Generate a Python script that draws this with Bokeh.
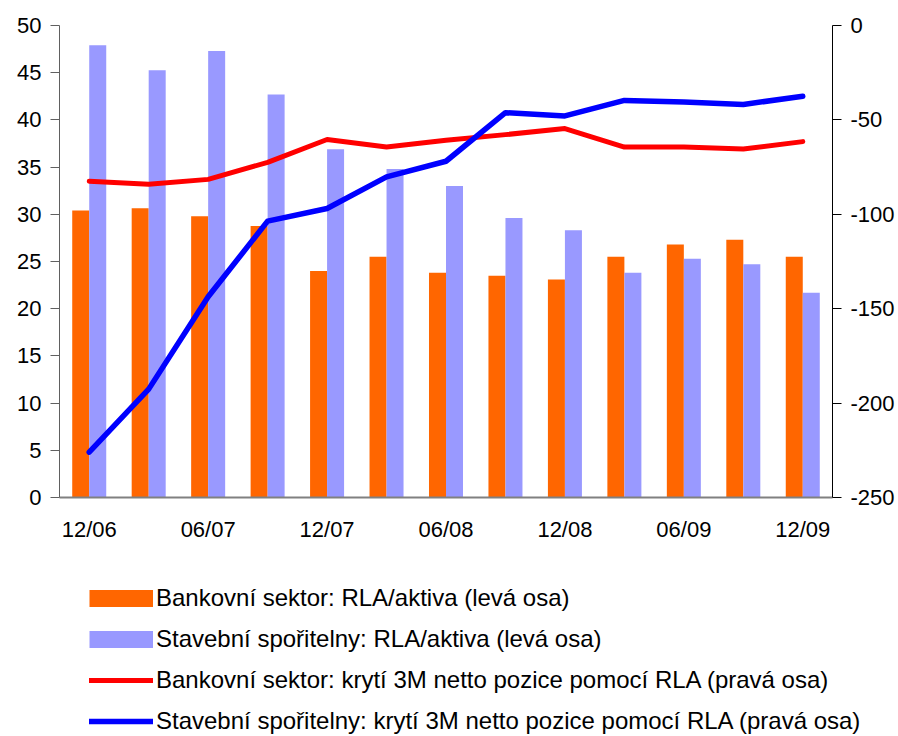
from bokeh.plotting import figure
from bokeh.models import Range1d, LinearAxis, FixedTicker, Legend, LegendItem, ColumnDataSource
from bokeh.transform import dodge
from bokeh.embed import file_html
from bokeh.resources import INLINE

periods = ["12/06", "03/07", "06/07", "09/07", "12/07", "03/08", "06/08",
           "09/08", "12/08", "03/09", "06/09", "09/09", "12/09"]
shown_labels = ["12/06", "06/07", "12/07", "06/08", "12/08", "06/09", "12/09"]
bank_rla = [30.4, 30.65, 29.8, 28.75, 24.0, 25.5, 23.8, 23.5, 23.1, 25.5, 26.8, 27.3, 25.5]
stav_rla = [47.9, 45.25, 47.3, 42.7, 36.9, 34.8, 33.0, 29.6, 28.3, 23.8, 25.3, 24.7, 21.7]
bank_cover = [-82.5, -84.1, -81.5, -72.5, -60.4, -64.4, -60.8, -57.8, -54.6, -64.4, -64.4, -65.4, -61.5]
stav_cover = [-226, -192.6, -143.7, -103.6, -96.9, -80.2, -71.9, -46.2, -47.9, -39.7, -40.5, -41.8, -37.5]
left_ticks = [0, 5, 10, 15, 20, 25, 30, 35, 40, 45, 50]
right_ticks = [-250, -200, -150, -100, -50, 0]

names = [
    "Bankovní sektor: RLA/aktiva (levá osa)",
    "Stavební spořitelny: RLA/aktiva (levá osa)",
    "Bankovní sektor: krytí 3M netto pozice pomocí RLA (pravá osa)",
    "Stavební spořitelny: krytí 3M netto pozice pomocí RLA (pravá osa)",
]

ORANGE = "#FF6600"
LILAC = "#9999FF"
RED = "#FF0000"
BLUE = "#0000FF"

idx = list(range(len(periods)))
src = ColumnDataSource(dict(x=idx, period=periods, bank_rla=bank_rla, stav_rla=stav_rla,
                            bank_cover=bank_cover, stav_cover=stav_cover))

FONT = "Liberation Sans"

p = figure(frame_width=773, frame_height=472, output_backend="svg", toolbar_location=None,
           x_range=Range1d(-0.5, len(periods) - 0.5), y_range=Range1d(0, 50),
           min_border_left=59, min_border_top=25, min_border_bottom=0, min_border_right=0)
p.extra_y_ranges = {"right": Range1d(-250, 0)}
p.outline_line_color = None
p.xgrid.visible = False
p.ygrid.visible = False
p.background_fill_color = "white"
p.border_fill_color = "white"

bw = 0.286
p.vbar(x=dodge("x", -bw / 2, range=p.x_range), top="bank_rla", width=bw, source=src,
       fill_color=ORANGE, line_color=None)
p.vbar(x=dodge("x", bw / 2, range=p.x_range), top="stav_rla", width=bw, source=src,
       fill_color=LILAC, line_color=None)
p.line(x="x", y="bank_cover", source=src, y_range_name="right", line_color=RED,
       line_width=5, line_cap="round", line_join="round")
p.line(x="x", y="stav_cover", source=src, y_range_name="right", line_color=BLUE,
       line_width=5.5, line_cap="round", line_join="round")

# x axis
xa = p.xaxis[0]
label_pos = [periods.index(l) for l in shown_labels]
xa.ticker = FixedTicker(ticks=label_pos)
xa.major_label_overrides = {i: periods[i] for i in label_pos}
xa.major_tick_out = 0
xa.major_tick_in = 0
xa.minor_tick_line_color = None
xa.axis_line_color = "#808080"
xa.axis_line_width = 2
xa.major_label_standoff = 19
xa.major_label_text_font = FONT
xa.major_label_text_font_size = "22px"
xa.major_label_text_color = "black"

# left axis
ya = p.yaxis[0]
ya.ticker = FixedTicker(ticks=left_ticks)
ya.major_tick_out = 9
ya.major_tick_in = 0
ya.minor_tick_line_color = None
ya.axis_line_color = "#606060"
ya.major_tick_line_color = "#606060"
ya.major_label_standoff = 9
ya.major_label_text_font = FONT
ya.major_label_text_font_size = "22px"
ya.major_label_text_color = "black"

# right axis
ra = LinearAxis(y_range_name="right", ticker=FixedTicker(ticks=right_ticks))
ra.major_label_overrides = {t: str(t) for t in right_ticks}
ra.major_tick_out = 9
ra.major_tick_in = 0
ra.minor_tick_line_color = None
ra.axis_line_color = "black"
ra.major_tick_line_color = "black"
ra.major_label_standoff = 9
ra.major_label_text_font = FONT
ra.major_label_text_font_size = "22px"
ra.major_label_text_color = "black"
p.add_layout(ra, "right")

# legend panel: a second, independent figure holding only the legend.
# Its key renderers use the same series, but lie outside this panel's ranges.
LH = 194
lf = figure(width=895, height=LH, output_backend="svg", toolbar_location=None,
            x_range=Range1d(0, 1), y_range=Range1d(0, 1),
            min_border=0, min_border_left=0, min_border_right=0,
            min_border_top=0, min_border_bottom=0)
lf.axis.visible = False
lf.xgrid.visible = False
lf.ygrid.visible = False
lf.outline_line_color = None
lf.background_fill_color = "white"
lf.border_fill_color = "white"

k1 = lf.line(x="x", y="bank_rla", source=src, line_color=ORANGE, line_width=17, line_cap="butt")
k2 = lf.line(x="x", y="stav_rla", source=src, line_color=LILAC, line_width=17, line_cap="butt")
k3 = lf.line(x="x", y="bank_cover", source=src, line_color=RED, line_width=5, line_cap="round")
k4 = lf.line(x="x", y="stav_cover", source=src, line_color=BLUE, line_width=5.5, line_cap="round")

legend = Legend(items=[LegendItem(label=names[0], renderers=[k1]),
                       LegendItem(label=names[1], renderers=[k2]),
                       LegendItem(label=names[2], renderers=[k3]),
                       LegendItem(label=names[3], renderers=[k4])],
                location=(89, 3), orientation="vertical")
legend.border_line_color = None
legend.background_fill_alpha = 0
legend.padding = 0
legend.margin = 0
legend.spacing = 13
legend.glyph_width = 64
legend.glyph_height = 28
legend.label_height = 28
legend.label_standoff = 3
legend.label_text_font = FONT
legend.label_text_font_size = "24px"
legend.label_text_color = "black"
legend.label_text_baseline = "middle"
lf.add_layout(legend, "center")

open("out.html", "w").write(file_html([p, lf], INLINE))
